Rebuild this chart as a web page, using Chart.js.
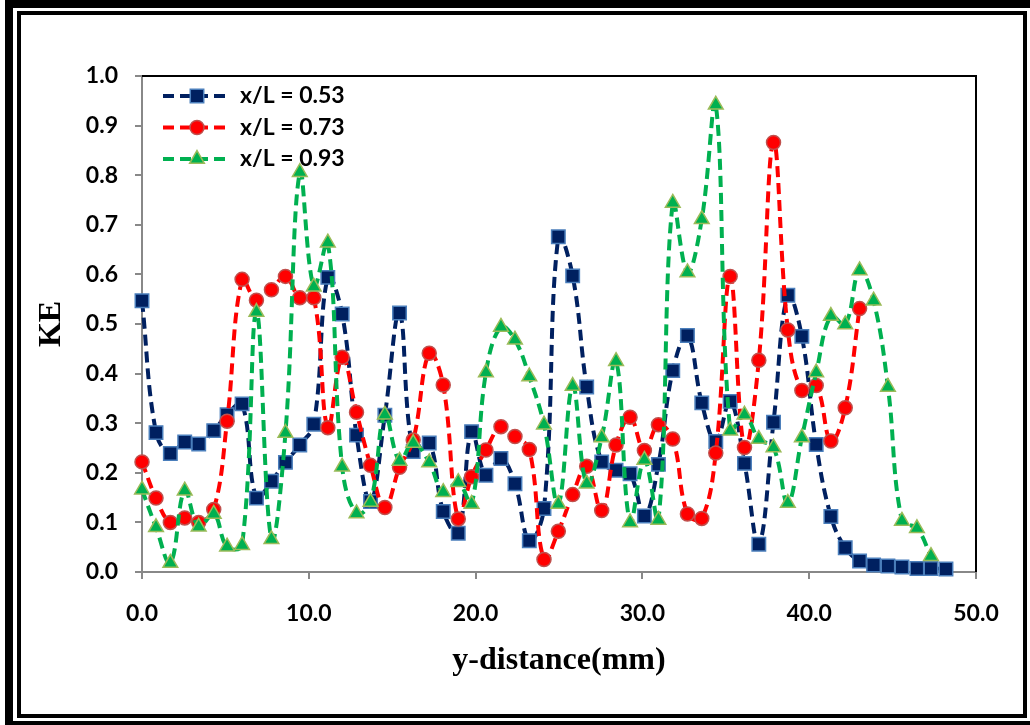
<!DOCTYPE html>
<html>
<head>
<meta charset="utf-8">
<script src="https://cdn.jsdelivr.net/npm/chart.js@4.4.0/dist/chart.umd.min.js"></script>
<style>
  html, body { margin: 0; padding: 0; background: #fff; }
  #wrap { position: relative; width: 1030px; height: 725px; overflow: hidden; }
  #c { position: absolute; left: 0; top: 0; }
  .frame { position: absolute; box-sizing: border-box; border: solid #000; pointer-events: none; }
  #outer { left: 5px; top: 0; width: 1040px; height: 729px; border-width: 8px; }
  #inner { left: 17px; top: 11px; width: 1010px; height: 707px; border-width: 4px; }
</style>
</head>
<body>
<div id="wrap">
  <canvas id="c" width="1030" height="725"></canvas>
  <div class="frame" id="outer"></div>
  <div class="frame" id="inner"></div>
</div>
<script>
// y-distance (mm) of the measuring stations
const yDist = [
  0, 0.84, 1.7, 2.56, 3.4, 4.3, 5.1, 6.0, 6.86, 7.76, 8.6, 9.46, 10.3, 11.14, 12.0, 12.86, 13.7, 14.56, 15.44, 16.26,
  17.22, 18.06, 18.96, 19.76, 20.62, 21.52, 22.36, 23.22, 24.1, 24.96, 25.82, 26.66, 27.56, 28.42, 29.26, 30.12, 30.96, 31.82, 32.7,
  33.56, 34.4, 35.26, 36.12, 36.98, 37.86, 38.72, 39.56, 40.42, 41.3, 42.16, 43.02, 43.86, 44.72, 45.56, 46.46, 47.3, 48.2
];

// KE, x/L = 0.53
const ke053 = [
  0.547, 0.281, 0.239, 0.262, 0.258, 0.285, 0.317, 0.339, 0.149, 0.183, 0.221, 0.256, 0.298, 0.594, 0.520, 0.276, 0.142, 0.316, 0.522, 0.243,
  0.260, 0.122, 0.078, 0.283, 0.195, 0.229, 0.178, 0.063, 0.128, 0.676, 0.597, 0.373, 0.222, 0.205, 0.198, 0.113, 0.217, 0.406, 0.477,
  0.341, 0.263, 0.344, 0.219, 0.056, 0.302, 0.558, 0.475, 0.257, 0.112, 0.049, 0.022, 0.014, 0.012, 0.010, 0.007, 0.007, 0.006
];

// KE, x/L = 0.73
const ke073 = [
  0.222, 0.149, 0.100, 0.109, 0.100, 0.126, 0.304, 0.590, 0.548, 0.569, 0.596, 0.553, 0.553, 0.291, 0.433, 0.322, 0.215, 0.130, 0.211, 0.266,
  0.441, 0.377, 0.107, 0.192, 0.246, 0.293, 0.273, 0.247, 0.025, 0.082, 0.156, 0.213, 0.124, 0.256, 0.312, 0.245, 0.297, 0.268, 0.117,
  0.108, 0.240, 0.596, 0.251, 0.427, 0.866, 0.488, 0.366, 0.376, 0.264, 0.331, 0.531
];

// KE, x/L = 0.93
const ke093 = [
  0.166, 0.090, 0.018, 0.164, 0.091, 0.117, 0.051, 0.054, 0.524, 0.066, 0.280, 0.806, 0.575, 0.664, 0.212, 0.118, 0.141, 0.317, 0.224, 0.260,
  0.221, 0.161, 0.181, 0.137, 0.402, 0.494, 0.468, 0.394, 0.297, 0.137, 0.375, 0.178, 0.271, 0.425, 0.100, 0.226, 0.105, 0.744, 0.604,
  0.711, 0.942, 0.285, 0.317, 0.268, 0.251, 0.139, 0.271, 0.402, 0.516, 0.499, 0.608, 0.547, 0.373, 0.103, 0.088, 0.032
];

const seriesLabels = ['x/L = 0.53', 'x/L = 0.73', 'x/L = 0.93'];

const pts = arr => arr.map((v, i) => ({ x: yDist[i], y: v }));

function series(label, values, line, fill, edge, style, radius, order) {
  return {
    label: label,
    data: pts(values),
    borderColor: line,
    borderWidth: 4,
    borderDash: [11, 6],
    tension: 0.4,
    pointStyle: style,
    pointRadius: radius,
    pointHoverRadius: radius,
    pointBackgroundColor: fill,
    pointBorderColor: edge,
    pointBorderWidth: 1.5,
    clip: false,
    order: order
  };
}

const datasets = [
  series(seriesLabels[0], ke053, '#002060', '#002060', '#4a7ebb', 'rect', 9.5, 3),
  series(seriesLabels[1], ke073, '#ff0000', '#ff0000', '#c0504d', 'circle', 7, 2),
  series(seriesLabels[2], ke093, '#00b050', '#00b050', '#9bbb59', 'triangle', 8.5, 1)
];

function marker(ctx, style, x, y, r) {
  ctx.beginPath();
  if (style === 'rect') {
    const s = r * Math.SQRT1_2;
    ctx.rect(x - s, y - s, 2 * s, 2 * s);
  } else if (style === 'triangle') {
    for (let k = 0; k < 3; k++) {
      const a = k * 2 * Math.PI / 3;
      const px = x + Math.sin(a) * r, py = y - Math.cos(a) * r;
      k ? ctx.lineTo(px, py) : ctx.moveTo(px, py);
    }
    ctx.closePath();
  } else {
    ctx.arc(x, y, r, 0, Math.PI * 2);
  }
  ctx.fill();
  ctx.stroke();
}

// black top/right border of the plot + legend box inside the plot
const extras = {
  id: 'extras',
  beforeDatasetsDraw(chart) {
    const { ctx, chartArea: a } = chart;
    ctx.save();
    ctx.strokeStyle = '#000';
    ctx.lineWidth = 2;
    ctx.beginPath();
    ctx.moveTo(a.left, a.top);
    ctx.lineTo(a.right, a.top);
    ctx.lineTo(a.right, a.bottom);
    ctx.stroke();
    ctx.restore();
  },
  afterDraw(chart) {
    const ctx = chart.ctx;
    ctx.save();
    chart.data.datasets.forEach((d, i) => {
      const y = 96 + i * 31.5;
      ctx.setLineDash(d.borderDash);
      ctx.lineWidth = d.borderWidth;
      ctx.strokeStyle = d.borderColor;
      ctx.beginPath();
      ctx.moveTo(163, y);
      ctx.lineTo(230, y);
      ctx.stroke();
      ctx.setLineDash([]);
      ctx.fillStyle = d.pointBackgroundColor;
      ctx.strokeStyle = d.pointBorderColor;
      ctx.lineWidth = d.pointBorderWidth;
      marker(ctx, d.pointStyle, 197, y, d.pointRadius);
      ctx.fillStyle = '#000';
      ctx.font = 'bold 23px Lato';
      ctx.textBaseline = 'middle';
      ctx.fillText(d.label, 240, y);
    });
    ctx.restore();
  }
};

const tickFont = { family: 'Lato', size: 23, weight: 'bold' };
const titleFont = { family: 'Liberation Serif', size: 32, weight: 'bold', lineHeight: 1 };

new Chart(document.getElementById('c'), {
  type: 'line',
  data: { datasets: datasets },
  options: {
    responsive: false,
    devicePixelRatio: 1,
    animation: false,
    layout: { padding: { left: 36, top: 76, right: 54, bottom: 48 } },
    plugins: {
      legend: { display: false },
      tooltip: { enabled: false }
    },
    scales: {
      x: {
        type: 'linear',
        min: 0,
        max: 50,
        ticks: {
          stepSize: 10,
          padding: 21,
          color: '#000',
          font: tickFont,
          maxRotation: 0,
          callback: v => v.toFixed(1)
        },
        grid: { drawOnChartArea: false, drawTicks: true, tickLength: 7, color: '#888', lineWidth: 2 },
        border: { display: true, color: '#888', width: 2 },
        title: { display: true, text: 'y-distance(mm)', color: '#000', font: titleFont, padding: 0 },
        afterFit(s) { s.height = 105; }
      },
      y: {
        min: 0,
        max: 1,
        ticks: {
          stepSize: 0.1,
          padding: 17,
          color: '#000',
          font: tickFont,
          callback: v => v.toFixed(1)
        },
        grid: { drawOnChartArea: false, drawTicks: true, tickLength: 7, color: '#888', lineWidth: 2 },
        border: { display: true, color: '#888', width: 2 },
        title: { display: true, text: 'KE', color: '#000', font: titleFont, padding: 0 },
        afterFit(s) { s.width = 106; }
      }
    }
  },
  plugins: [extras]
});
</script>
</body>
</html>
